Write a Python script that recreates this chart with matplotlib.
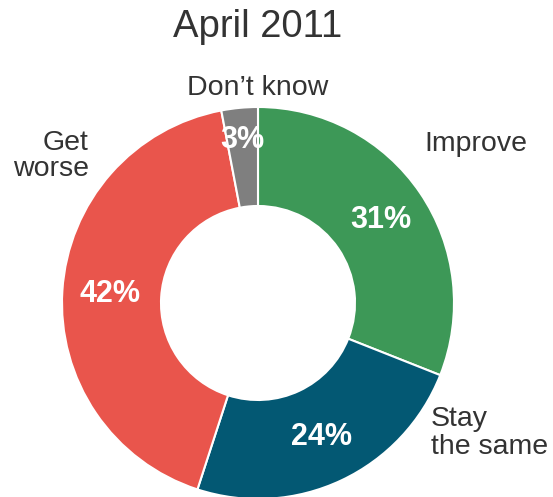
import numpy as np
from matplotlib import pyplot as plt

plt.rcParams['font.family'] = ['Liberation Sans', 'DejaVu Sans']

# Survey answers, clockwise from the top
categories = ["Improve", "Stay the same", "Get worse", "Don't know"]
shares = [31, 24, 42, 3]
colors = ["#3d9857", "#035873", "#e9554c", "#7f7f7f"]
title = "April 2011"

W, H = 553, 497
cx, cy = 258, H - 303
r_out, r_in = 196, 97


def main():
    fig = plt.figure(figsize=(W / 100, H / 100), dpi=100)
    ax = fig.add_axes([0, 0, 1, 1])

    ax.pie(shares, colors=colors, startangle=90, counterclock=False,
           radius=r_out, center=(cx, cy),
           wedgeprops=dict(width=r_out - r_in, edgecolor="white", linewidth=1.5))

    # pie() resets the limits, so set the pixel frame afterwards
    ax.set_xlim(0, W)
    ax.set_ylim(0, H)
    ax.set_aspect("equal")
    ax.axis("off")

    # percentage labels in the middle of each ring segment
    total = sum(shares)
    start = 90.0
    for i, v in enumerate(shares):
        mid = np.deg2rad(start - v / total * 360 / 2)
        start -= v / total * 360
        rr = 164 if v < 5 else 148
        ax.text(cx + rr * np.cos(mid), cy + rr * np.sin(mid), f"{v}%",
                ha="center", va="center", color="white", fontsize=22,
                fontweight="bold")

    txt = dict(color="#333333", fontsize=20.5)
    ax.text(cx, H - 27, title, ha="center", va="center", color="#333333", fontsize=27.5)
    ax.text(424, H - 144, "Improve", ha="left", va="center", **txt)
    ax.text(431, H - 433, "Stay\nthe same", ha="left", va="center", linespacing=1.05, **txt)
    ax.text(89, H - 156, "Get\nworse", ha="right", va="center", linespacing=1.05, **txt)
    ax.text(cx, H - 88, "Don\u2019t know", ha="center", va="center", **txt)

    fig.savefig("out.png", dpi=100)


if __name__ == "__main__":
    main()
